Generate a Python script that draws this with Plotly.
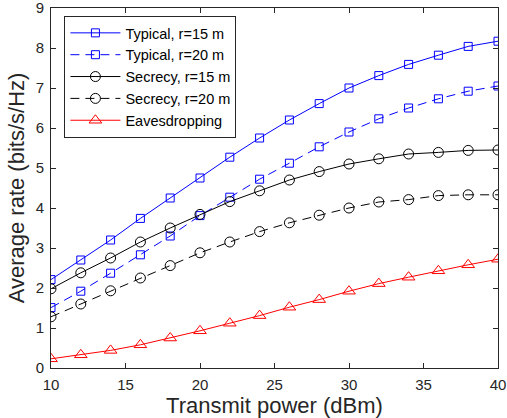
import plotly.graph_objects as go

power = [10, 12, 14, 16, 18, 20, 22, 24, 26, 28, 30, 32, 34, 36, 38, 40]
typical_r15 = [2.21, 2.70, 3.20, 3.74, 4.25, 4.75, 5.27, 5.75, 6.20, 6.61, 7.00, 7.31, 7.59, 7.82, 8.04, 8.17]
typical_r20 = [1.51, 1.92, 2.37, 2.83, 3.30, 3.81, 4.27, 4.72, 5.12, 5.53, 5.90, 6.23, 6.50, 6.73, 6.92, 7.05]
secrecy_r15 = [1.98, 2.38, 2.75, 3.15, 3.50, 3.84, 4.16, 4.43, 4.70, 4.91, 5.10, 5.23, 5.35, 5.39, 5.44, 5.45]
secrecy_r20 = [1.28, 1.60, 1.93, 2.25, 2.56, 2.88, 3.15, 3.41, 3.63, 3.82, 4.00, 4.15, 4.21, 4.31, 4.33, 4.33]
eaves = [0.23, 0.33, 0.44, 0.58, 0.75, 0.93, 1.12, 1.31, 1.52, 1.71, 1.92, 2.11, 2.27, 2.43, 2.58, 2.72]

series = [
    ("Typical, r=15 m", typical_r15, "#0000FF", "solid", "square-open", 8),
    ("Typical, r=20 m", typical_r20, "#0000FF", "9px,6px", "square-open", 8),
    ("Secrecy, r=15 m", secrecy_r15, "#000000", "solid", "circle-open", 10),
    ("Secrecy, r=20 m", secrecy_r20, "#000000", "9px,6px", "circle-open", 10),
    ("Eavesdropping", eaves, "#FF0000", "solid", "triangle-up-open", 11),
]

fig = go.Figure()
for name, vals, col, dash, sym, sz in series:
    fig.add_trace(go.Scatter(
        x=power, y=vals, name=name, mode="lines+markers",
        line=dict(color=col, width=1, dash=dash),
        marker=dict(symbol=sym, size=sz, color=col, line=dict(color=col, width=1)),
    ))

axis_common = dict(
    showgrid=False, zeroline=False, showline=True, mirror="ticks",
    linecolor="#262626", linewidth=1, ticks="inside", ticklen=5,
    tickcolor="#262626", ticklabelstandoff=3, automargin=False,
    ticklabeloverflow="allow",
    tickfont=dict(size=15, color="#262626", family="Liberation Sans, Arial"),
)
fig.update_xaxes(range=[10, 40], tickvals=[10, 15, 20, 25, 30, 35, 40],
                 title=dict(text="Transmit power (dBm)", font=dict(size=22, color="#262626"), standoff=2),
                 **axis_common)
fig.update_yaxes(range=[0, 9], tickvals=list(range(10)),
                 title=dict(text="Average rate (bits/s/Hz)", font=dict(size=22, color="#262626"), standoff=4),
                 **axis_common)

fig.update_layout(
    width=507, height=418,
    margin=dict(l=51, r=9, t=8, b=50, autoexpand=False),
    paper_bgcolor="white", plot_bgcolor="white",
    font=dict(family="Liberation Sans, Arial", color="#262626"),
    showlegend=True,
    legend=dict(x=0.03, y=0.978, xanchor="left", yanchor="top",
                bgcolor="white", bordercolor="#262626", borderwidth=1,
                font=dict(size=14.5, color="#000000"), itemwidth=50, tracegroupgap=0),
)

fig.write_html("out.html")
